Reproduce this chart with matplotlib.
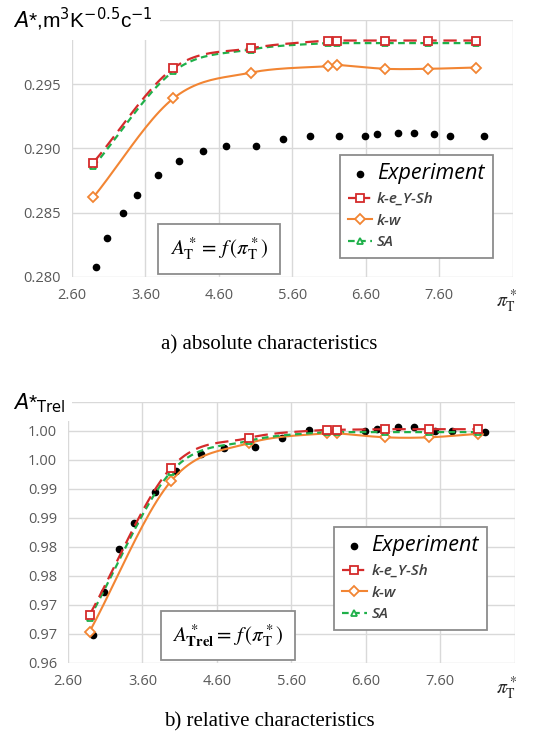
import numpy as np
import matplotlib
matplotlib.use("Agg")
import matplotlib.pyplot as plt
from matplotlib.lines import Line2D

plt.rcParams['font.family'] = ['Open Sans', 'DejaVu Sans']

# CFD points (same pi_T* for all three models)
x_cfd = [2.89, 3.98, 5.03, 6.08, 6.21, 6.86, 7.45, 8.10]
# a) absolute
abs_keys = [0.2889, 0.29625, 0.2978, 0.2984, 0.2984, 0.2984, 0.2984, 0.2984]
abs_kw = [0.2862, 0.2939, 0.2959, 0.2964, 0.2965, 0.2962, 0.2962, 0.2963]
abs_sa = [0.2886, 0.2960, 0.2977, 0.2982, 0.2982, 0.2982, 0.2982, 0.2982]
# b) relative
rel_keys = [0.9683, 0.9936, 0.9988, 1.0002, 1.0002, 1.0003, 1.0003, 1.0003]
rel_kw = [0.9654, 0.9913, 0.9979, 0.9996, 0.9996, 0.9989, 0.9989, 0.9995]
rel_sa = [0.9678, 0.9929, 0.9983, 0.9998, 0.9998, 0.9998, 0.9998, 0.9998]

# experiment
x_exp = [2.93, 3.08, 3.29, 3.49, 3.77, 4.05, 4.38, 4.70, 5.11, 5.47,
         5.84, 6.23, 6.59, 6.75, 7.03, 7.25, 7.53, 7.75, 8.20]
abs_exp = [0.2808, 0.2830, 0.2850, 0.2864, 0.2879, 0.2890, 0.2898, 0.2902, 0.2902, 0.2907,
           0.2910, 0.2910, 0.2910, 0.2911, 0.2912, 0.2912, 0.2911, 0.2910, 0.2910]
rel_exp = [0.9649, 0.9723, 0.9796, 0.9842, 0.9894, 0.9931, 0.9960, 0.9970, 0.9972, 0.9988,
           1.0002, 1.0000, 1.0000, 1.0003, 1.0007, 1.0007, 1.0000, 1.0000, 0.9998]

x_ticks = [2.6, 3.6, 4.6, 5.6, 6.6, 7.6, 8.6]
x_labels = ['2.60', '3.60', '4.60', '5.60', '6.60', '7.60', '']
abs_ticks = [0.280, 0.285, 0.290, 0.295, 0.300]
abs_labels = ['0.280', '0.285', '0.290', '0.295', '']
rel_ticks = [0.960, 0.965, 0.970, 0.975, 0.980, 0.985, 0.990, 0.995, 1.000, 1.005]
rel_labels = ['0.96', '0.97', '0.97', '0.98', '0.98', '0.99', '0.99', '1.00', '1.00', '']

RED = '#d42b2b'
ORANGE = '#f28533'
GREEN = '#1fb04a'
GRID = '#d9d9d9'
TICK = '#595959'


def smooth(x, y, n=24):
    # Excel-like smoothed line (Catmull-Rom)
    x = np.asarray(x, float)
    y = np.asarray(y, float)
    px = np.concatenate([[2 * x[0] - x[1]], x, [2 * x[-1] - x[-2]]])
    py = np.concatenate([[2 * y[0] - y[1]], y, [2 * y[-1] - y[-2]]])
    t = np.linspace(0, 1, n)[:, None]
    xs, ys = [], []
    for i in range(1, len(px) - 2):
        P = np.array([[px[j], py[j]] for j in range(i - 1, i + 3)])
        c = 0.5 * ((2 * P[1]) + (-P[0] + P[2]) * t
                   + (2 * P[0] - 5 * P[1] + 4 * P[2] - P[3]) * t ** 2
                   + (-P[0] + 3 * P[1] - 3 * P[2] + P[3]) * t ** 3)
        xs.extend(c[:, 0])
        ys.extend(c[:, 1])
    return xs, ys


def panel(ax, keys, kw, sa, exp, yticks, ylabels, formula, leg_anchor, box_xy, pi_x):
    ax.set_xlim(2.6, 8.6)
    ax.set_ylim(yticks[0], yticks[-1])
    ax.set_xticks(x_ticks)
    ax.set_xticklabels(x_labels)
    ax.set_yticks(yticks)
    ax.set_yticklabels(ylabels)
    ax.tick_params(length=0, labelsize=10.5, labelcolor=TICK, pad=8)
    ax.grid(True, color=GRID, lw=1)
    ax.set_axisbelow(True)
    for s in ax.spines.values():
        s.set_visible(False)

    ax.plot(x_exp, exp, 'o', color='black', ms=4.5, zorder=3)
    sx, sy = smooth(x_cfd, kw)
    ax.plot(sx, sy, color=ORANGE, lw=1.5, zorder=4)
    ax.plot(x_cfd, kw, 'D', ms=5, mfc='white', mec=ORANGE, mew=1.3, zorder=5)
    sx, sy = smooth(x_cfd, sa)
    ax.plot(sx, sy, color=GREEN, lw=1.6, dashes=(3, 2), zorder=4)
    ax.plot(x_cfd, sa, '^', ms=5, mfc='white', mec=GREEN, mew=1.3, zorder=5)
    sx, sy = smooth(x_cfd, keys)
    ax.plot(sx, sy, color=RED, lw=1.6, dashes=(6, 3), zorder=4)
    ax.plot(x_cfd, keys, 's', ms=6, mfc='white', mec=RED, mew=1.3, zorder=5)

    handles = [
        Line2D([], [], ls='none', marker='o', color='black', ms=4.5),
        Line2D([], [], color=RED, lw=1.6, dashes=(4, 2), marker='s', ms=5.5, mfc='white', mew=1.3),
        Line2D([], [], color=ORANGE, lw=1.5, marker='D', ms=5, mfc='white', mew=1.3),
        Line2D([], [], color=GREEN, lw=1.6, dashes=(3, 2), marker='^', ms=5, mfc='white', mew=1.3),
    ]
    leg = ax.legend(handles, ['Experiment', 'k-e_Y-Sh', 'k-w', 'SA'],
                    loc='lower right', bbox_to_anchor=leg_anchor, handlelength=1.6,
                    handletextpad=0.3, borderpad=0.55, labelspacing=0.5,
                    fancybox=False, edgecolor='#8c8c8c', framealpha=1,
                    prop={'style': 'italic', 'size': 11})
    leg.get_frame().set_linewidth(1.3)
    txts = leg.get_texts()
    txts[0].set_fontsize(15.5)
    for t in txts[1:]:
        t.set_color('#404040')
        t.set_fontweight('semibold')

    ax.text(box_xy[0], box_xy[1], formula, transform=ax.transAxes, ha='center', va='center',
            fontsize=15, math_fontfamily='stix', zorder=6,
            bbox=dict(boxstyle='square,pad=0.55', fc='white', ec='#8c8c8c', lw=1.3))
    ax.text(pi_x, -0.095, r'$\pi^*_{\mathrm{T}}$', transform=ax.transAxes, ha='left',
            va='center', fontsize=14, math_fontfamily='stix', color='#262626')


fig = plt.figure(figsize=(5.39, 7.42), dpi=100)
ax1 = fig.add_axes([0.1336, 0.6267, 0.818, 0.3464])
ax2 = fig.add_axes([0.1262, 0.1065, 0.829, 0.3518])

panel(ax1, abs_keys, abs_kw, abs_sa, abs_exp, abs_ticks, abs_labels,
      r'$A^*_{\mathrm{T}} =\, f\,(\pi^*_{\mathrm{T}})$', (0.972, 0.045), (0.334, 0.109), 0.962)
panel(ax2, rel_keys, rel_kw, rel_sa, rel_exp, rel_ticks, rel_labels,
      r'$A^*_{\mathbf{T}\mathbf{rel}} =\, f\,(\pi^*_{\mathrm{T}})$', (0.955, 0.098), (0.358, 0.105), 0.958)

# axis titles sit on a white patch that hides the grid corner, as in the source
fig.text(0.025, 0.962, r'$A$*,m$^{3}$K$^{-0.5}$c$^{-1}$', fontsize=15,
         family='Liberation Sans', math_fontfamily='dejavusans', va='baseline',
         bbox=dict(boxstyle='square,pad=0.3', fc='white', ec='none'))
fig.text(0.025, 0.448, r'$A$*$_{\mathrm{Trel}}$', fontsize=15,
         family='Liberation Sans', math_fontfamily='dejavusans', va='baseline',
         bbox=dict(boxstyle='square,pad=0.3', fc='white', ec='none'))

fig.text(0.5, 0.535, 'a) absolute characteristics', ha='center', va='center',
         family='Liberation Serif', fontsize=15)
fig.text(0.5, 0.027, 'b) relative characteristics', ha='center', va='center',
         family='Liberation Serif', fontsize=15)

fig.savefig('out.png', dpi=100)
